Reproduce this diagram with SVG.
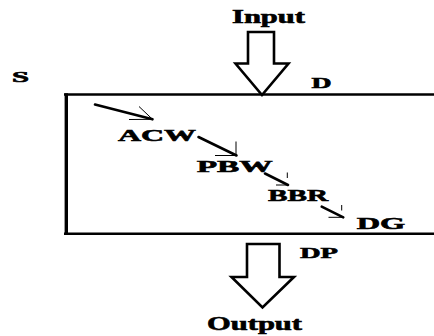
<svg xmlns="http://www.w3.org/2000/svg" width="434" height="336" viewBox="0 0 434 336">
<style>
.t{font-family:"Liberation Serif","Times New Roman",serif;font-weight:bold;fill:#000;stroke:#000;stroke-width:0.6}
.big{stroke:#000;stroke-width:2.6;fill:#fff;stroke-linejoin:miter}
.shaft{stroke:#000;stroke-width:2.6;fill:none;stroke-linecap:round}
.wing{stroke:#000;stroke-width:1;fill:none}
</style>
<rect width="434" height="336" fill="#fff"/>
<g id="box">
<line x1="64" y1="94.5" x2="434" y2="94.5" stroke="#000" stroke-width="2.4"/>
<line x1="64" y1="233.8" x2="434" y2="233.8" stroke="#000" stroke-width="2.4"/>
<line x1="66.3" y1="93.3" x2="66.3" y2="235" stroke="#000" stroke-width="3.4"/>
</g>
<g id="input">
<path class="big" d="M248,32 H274 V63.5 H288.5 L262,95 L235.5,63.5 H248 Z"/>
<text class="t" x="232" y="22.5" font-size="18" textLength="73" lengthAdjust="spacingAndGlyphs">Input</text>
</g>
<g id="output">
<path class="big" d="M247,244 H279.5 V277 H294 L262.5,307.5 L231.5,277 H247 Z"/>
<text class="t" x="207" y="330" font-size="18.5" textLength="95" lengthAdjust="spacingAndGlyphs">Output</text>
</g>
<g id="S"><text class="t" x="12" y="82.3" font-size="14" textLength="17" lengthAdjust="spacingAndGlyphs">S</text></g>
<g id="D"><text class="t" x="311.5" y="88.3" font-size="14" textLength="20" lengthAdjust="spacingAndGlyphs">D</text></g>
<g id="ACW"><text class="t" x="118" y="140.6" font-size="17.5" textLength="78" lengthAdjust="spacingAndGlyphs">ACW</text></g>
<g id="PBW"><text class="t" x="196.7" y="171.6" font-size="17" textLength="76" lengthAdjust="spacingAndGlyphs">PBW</text></g>
<g id="BBR"><text class="t" x="268" y="200.6" font-size="17.5" textLength="60" lengthAdjust="spacingAndGlyphs">BBR</text></g>
<g id="DG"><text class="t" x="356.7" y="229.3" font-size="17" textLength="48.5" lengthAdjust="spacingAndGlyphs">DG</text></g>
<g id="DP"><text class="t" x="300" y="258" font-size="15" textLength="38" lengthAdjust="spacingAndGlyphs">DP</text></g>
<g id="connectors">
<line class="shaft" x1="95" y1="104.5" x2="152.5" y2="119.3"/>
<path class="wing" d="M139,106.5 L152.5,119.3 L129,119.5"/>
<line class="shaft" x1="198.5" y1="137" x2="236.5" y2="155.5"/>
<path class="wing" d="M236,141.5 V155.5 L215,155.5"/>
<line class="shaft" x1="265" y1="173.5" x2="288" y2="185"/>
<path class="wing" d="M287.3,172.5 V178 M288,185 L276,185"/>
<line class="shaft" x1="321.7" y1="206.7" x2="343.3" y2="217.3"/>
<path class="wing" d="M341.7,205 V210.5 M343.3,217.3 L328.5,217.3"/>
</g>
</svg>
